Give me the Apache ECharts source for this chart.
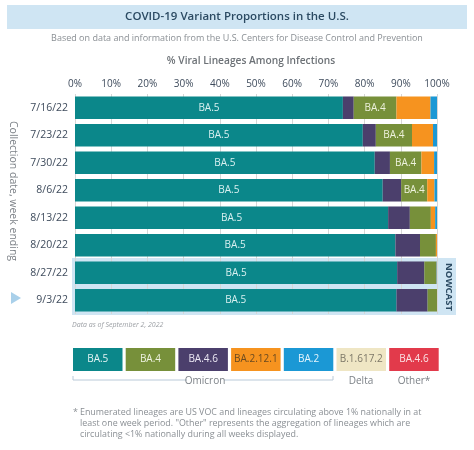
<!DOCTYPE html>
<html><head><meta charset="utf-8">
<script src="https://cdn.jsdelivr.net/npm/echarts@6/dist/echarts.min.js"></script>
<style>html,body{margin:0;padding:0;background:#fff}#c{width:474px;height:450px}</style>
</head><body><div id="c"></div>
<script>
const dates = ['7/16/22','7/23/22','7/30/22','8/6/22','8/13/22','8/20/22','8/27/22','9/3/22'];
const ba5    = [74.0, 79.5, 82.8, 85.0, 86.5, 88.5, 89.0, 88.8];
const ba46   = [3.0, 3.6, 4.2, 5.1, 6.0, 6.8, 7.5, 8.6];
const ba4    = [11.8, 10.0, 8.7, 7.2, 5.8, 4.4, 3.3, 2.6];
const ba2121 = [9.4, 5.8, 3.5, 2.0, 1.2, 0.3, 0.1, 0];
const ba2    = [1.8, 1.1, 0.8, 0.7, 0.5, 0.0, 0.1, 0];
const xTicks = [0,10,20,30,40,50,60,70,80,90,100];
const legendItems = ['BA.5','BA.4','BA.4.6','BA.2.12.1','BA.2','B.1.617.2','BA.4.6'];

const FONT = '"Open Sans", Lato, sans-serif';
const C = {ba5:'#0b878a', ba4:'#77903a', ba46:'#4b3f6c', ba2121:'#f6931f', ba2:'#1b98d5', delta:'#efe6c4', other:'#e23a4b'};
const legendColors = [C.ba5, C.ba4, C.ba46, C.ba2121, C.ba2, C.delta, C.other];
const legendText = ['#e3f3f3','#eef2e0','#ece8f4','#6a4a20','#e6f4fb','#7d7868','#fbe3e5'];

const chart = echarts.init(document.getElementById('c'), null, {renderer:'canvas'});

function seg(name, data, color, labelFn, labelColor){
  return {
    name, type:'bar', stack:'t', data, barCategoryGap:'18%',
    itemStyle:{color},
    label:{show:!!labelFn, position:'inside', color:labelColor||'#fff', fontFamily:FONT, fontSize:10,
      formatter: p => labelFn ? labelFn(p) : ''},
    emphasis:{disabled:true}, z:3
  };
}

const graphics = [
  {type:'rect', shape:{x:7,y:5,width:460,height:24}, style:{fill:'#cfe5f3'}, z:0},
  {type:'text', x:237, y:17, style:{text:'COVID-19 Variant Proportions in the U.S.', fill:'#2b4a62', font:'600 11.5px '+FONT, textAlign:'center', textVerticalAlign:'middle'}},
  {type:'text', x:237, y:38, style:{text:'Based on data and information from the U.S. Centers for Disease Control and Prevention', fill:'#8a8f94', font:'9px '+FONT, textAlign:'center', textVerticalAlign:'middle'}},
  {type:'text', x:251, y:61, style:{text:'% Viral Lineages Among Infections', fill:'#6d7277', font:'600 10.2px '+FONT, textAlign:'center', textVerticalAlign:'middle'}},
  {type:'rect', shape:{x:72,y:258,width:384,height:57}, style:{fill:'#cfe5f3'}, z:-10, zlevel:0},
  {type:'text', x:449, y:287, rotation:-Math.PI/2, style:{text:'NOWCAST', fill:'#2b4a62', font:'bold 9.5px '+FONT, textAlign:'center', textVerticalAlign:'middle'}},
  {type:'polygon', shape:{points:[[11,292],[21,298],[11,304]]}, style:{fill:'#a9d0ea'}},
  {type:'text', x:13, y:191, rotation:-Math.PI/2, style:{text:'Collection date, week ending', fill:'#7c8187', font:'10.5px '+FONT, textAlign:'center', textVerticalAlign:'middle'}},
  {type:'text', x:72, y:325, style:{text:'Data as of September 2, 2022', fill:'#9a9ea3', font:'italic 7px '+FONT, textAlign:'left', textVerticalAlign:'middle'}},
  {type:'polyline', shape:{points:[[73,376],[73,380],[187,380]]}, style:{stroke:'#b9c9d8', lineWidth:1, fill:null}},
  {type:'polyline', shape:{points:[[224,380],[333,380],[333,376]]}, style:{stroke:'#b9c9d8', lineWidth:1, fill:null}},
  {type:'text', x:205, y:381, style:{text:'Omicron', fill:'#7c8187', font:'10px '+FONT, textAlign:'center', textVerticalAlign:'middle'}},
  {type:'text', x:361, y:381, style:{text:'Delta', fill:'#7c8187', font:'10px '+FONT, textAlign:'center', textVerticalAlign:'middle'}},
  {type:'text', x:414, y:381, style:{text:'Other*', fill:'#7c8187', font:'10px '+FONT, textAlign:'center', textVerticalAlign:'middle'}},
  {type:'text', x:73, y:412, style:{text:'*', fill:'#8a8f94', font:'8.9px '+FONT, textAlign:'left', textVerticalAlign:'middle'}},
  {type:'text', x:80, y:412, style:{text:'Enumerated lineages are US VOC and lineages circulating above 1% nationally in at', fill:'#8a8f94', font:'8.9px '+FONT, textAlign:'left', textVerticalAlign:'middle'}},
  {type:'text', x:80, y:423, style:{text:'least one week period. "Other" represents the aggregation of lineages which are', fill:'#8a8f94', font:'8.9px '+FONT, textAlign:'left', textVerticalAlign:'middle'}},
  {type:'text', x:80, y:434, style:{text:'circulating <1% nationally during all weeks displayed.', fill:'#8a8f94', font:'8.9px '+FONT, textAlign:'left', textVerticalAlign:'middle'}}
];
legendItems.forEach((t,i)=>{
  const x = 73 + i*52.7;
  graphics.push({type:'rect', shape:{x:x,y:348,width:49.5,height:23}, style:{fill:legendColors[i]}});
  graphics.push({type:'text', x:x+24.75, y:359.5, style:{text:t, fill:legendText[i], font:'10px '+FONT, textAlign:'center', textVerticalAlign:'middle'}});
});

chart.setOption({
  animation:false,
  grid:{left:75, right:37, top:94, bottom:136, containLabel:false},
  xAxis:{type:'value', position:'top', min:0, max:100, interval:10,
    axisLine:{show:false}, axisTick:{show:false},
    axisLabel:{formatter:v=>xTicks.includes(v)?v+'%':'', color:'#3e4b5c', fontFamily:FONT, fontSize:10, margin:5},
    splitLine:{show:true, lineStyle:{color:'#d6d6d6', width:1}}},
  yAxis:{type:'category', data:dates, inverse:true,
    axisLine:{show:false}, axisTick:{show:false},
    axisLabel:{color:'#3e4b5c', fontFamily:FONT, fontSize:10.5, margin:7}},
  graphic:{elements:graphics},
  series:[
    seg('BA.5', ba5, C.ba5, ()=> 'BA.5', '#d9f0f0'),
    seg('BA.4.6', ba46, C.ba46),
    seg('BA.4', ba4, C.ba4, p=> p.value>=7 ? 'BA.4' : '', '#eef2dd'),
    seg('BA.2.12.1', ba2121, C.ba2121),
    seg('BA.2', ba2, C.ba2)
  ]
});
</script></body></html>
